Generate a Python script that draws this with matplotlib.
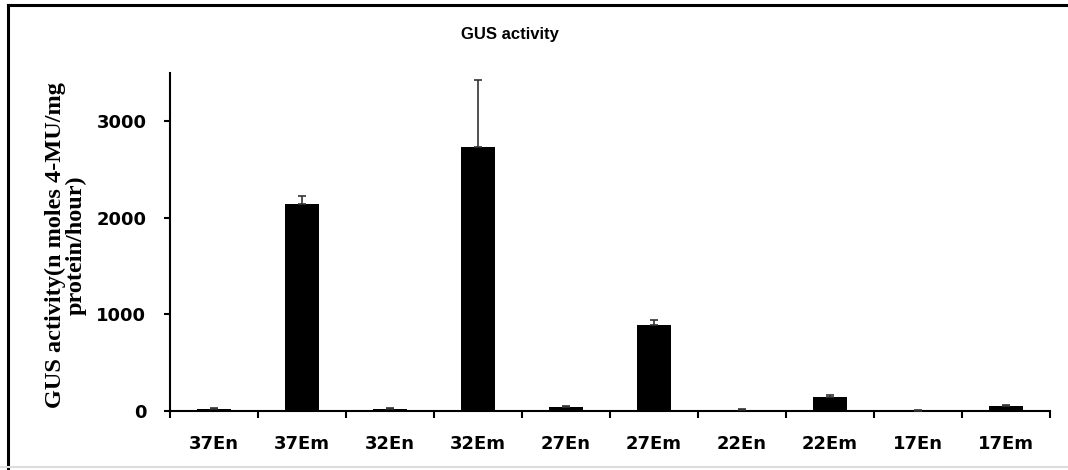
import matplotlib.pyplot as plt
from matplotlib.lines import Line2D
import numpy as np

# Categories and GUS activity values
categories = ["37En", "37Em", "32En", "32Em", "27En", "27Em", "22En", "22Em", "17En", "17Em"]
activity = [20, 2140, 20, 2730, 45, 890, 15, 150, 5, 52]
error_up = [12, 85, 10, 700, 10, 55, 8, 20, 3, 12]
y_ticks = [0, 1000, 2000, 3000]

fig = plt.figure(figsize=(10.68, 4.70), dpi=100)
ax = fig.add_axes([170 / 1068, 59 / 470, 880 / 1068, 338 / 470])

x = np.arange(len(categories))
ax.bar(x, activity, width=0.39, color="black", zorder=2)
ax.errorbar(x, activity, yerr=[np.zeros(len(error_up)), error_up], fmt="none",
            ecolor="#333333", elinewidth=1.2, capsize=3, capthick=1.2, zorder=3)

ax.set_xlim(-0.5, len(categories) - 0.5)
ax.set_ylim(0, 3500)
ax.set_yticks(y_ticks)
ax.set_yticklabels([str(v) for v in y_ticks], fontfamily="DejaVu Sans",
                   fontweight="bold", fontsize=13)
ax.set_xticks(x)
ax.set_xticklabels(categories, fontfamily="DejaVu Sans", fontweight="bold", fontsize=13)
ax.set_xticks(np.arange(-0.5, len(categories)), minor=True)
ax.tick_params(axis="x", which="major", length=0, pad=17)
ax.tick_params(axis="x", which="minor", length=5, width=1.5, direction="out")
ax.tick_params(axis="y", length=4, width=1.5, direction="out", pad=13)

for side in ["top", "right"]:
    ax.spines[side].set_visible(False)
for side in ["left", "bottom"]:
    ax.spines[side].set_linewidth(1.5)

fig.text(66 / 1068, 1 - 245 / 470, "GUS activity(n moles 4-MU/mg\nprotein/hour)",
         rotation=90, ha="center", va="center", ma="center", linespacing=1.0,
         fontfamily="Liberation Serif", fontweight="bold", fontsize=17.5)

fig.text(510 / 1068, 1 - 35 / 470, "GUS activity", ha="center", va="center",
         fontfamily="Liberation Sans", fontweight="bold", fontsize=12)

# frame around the figure
fig.add_artist(Line2D([8 / 1068, 1], [1 - 5 / 470, 1 - 5 / 470], color="black", lw=2.2,
                      transform=fig.transFigure))
fig.add_artist(Line2D([8 / 1068, 8 / 1068], [0, 1 - 5 / 470], color="black", lw=2.2,
                      transform=fig.transFigure))
fig.add_artist(Line2D([0, 1], [1 - 467 / 470, 1 - 467 / 470], color="#dddddd", lw=1.5,
                      transform=fig.transFigure))

fig.savefig("out.png", dpi=100)
